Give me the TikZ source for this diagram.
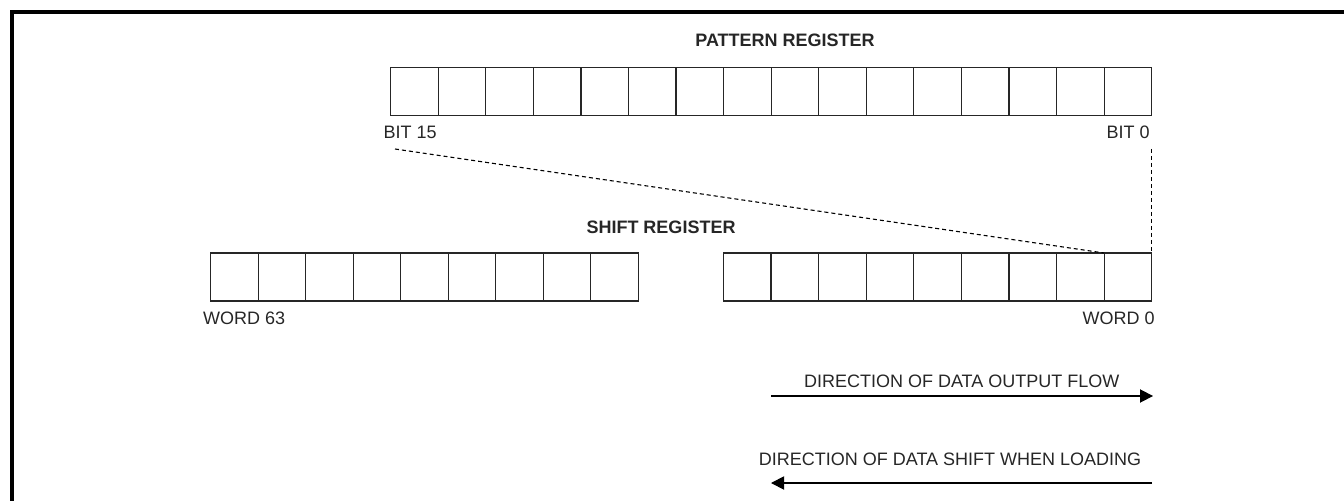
\documentclass[tikz,border=0pt]{standalone}
\usepackage{fontspec}
\setmainfont{Liberation Sans}
\usetikzlibrary{arrows.meta}
\begin{document}
\begin{tikzpicture}[x=0.5bp,y=-0.5bp,
  cell/.style={draw=black!85,line width=0.6bp,inner sep=0pt,outer sep=0pt,minimum width=23.78bp,minimum height=24bp,anchor=west},
  lbl/.style={inner sep=0pt,font=\fontsize{9bp}{11bp}\selectfont,text=black!85},
  ttl/.style={inner sep=0pt,font=\fontsize{9bp}{11bp}\selectfont\bfseries,text=black!85},
  dashline/.style={line width=0.55bp,dash pattern=on 2bp off 1.5bp},
  flow/.style={line width=0.6bp,-{Triangle[length=6.5bp,width=6.6bp]}}]
\useasboundingbox (0,0) rectangle (1344,501);
% frame
\draw[line width=1.6bp] (12,501) -- (12,12) -- (1344,12);
% pattern register
\node[ttl] (pt) at (785,40) {PATTERN REGISTER};
\foreach \i in {0,...,15} {
  \node[cell] (p\i) at ({390.7+(15-\i)*47.56},91.7) {};
}
\node[lbl,anchor=west] (b15) at (383.3,132) {BIT 15};
\node[lbl,anchor=east] (b0) at (1150,132.5) {BIT 0};
% shift register
\node[ttl] (st) at (661,227.5) {SHIFT REGISTER};
\foreach \k in {1,...,9} {
  \node[cell,minimum width=23.75bp] (s\k) at ({210.7+(\k-1)*47.5},277) {};
}
\foreach \k in {0,...,8} {
  \node[cell,minimum width=23.8bp] (r\k) at ({723.3+(8-\k)*47.6},277) {};
}
\node[lbl,anchor=west] (w63) at (202.7,318) {WORD 63};
\node[lbl,anchor=east] (w0) at (1155,318) {WORD 0};
% dashed mapping lines
\coordinate (d15) at (395,149);
\coordinate (d0) at (r0.north east |- 0,149);
\draw[dashline] (d15) -- (r0.north west);
\draw[dashline] (d0) -- (r0.north east);
% direction arrows
\node[lbl] (t1) at (961.7,381) {DIRECTION OF DATA OUTPUT FLOW};
\coordinate (a1s) at (771,396);
\coordinate (a1e) at (1153,396);
\draw[flow] (a1s) -- (a1e);
\node[lbl] (t2) at (950,459) {DIRECTION OF DATA SHIFT WHEN LOADING};
\coordinate (a2s) at (1152,483);
\coordinate (a2e) at (771,483);
\draw[flow] (a2s) -- (a2e);
\end{tikzpicture}
\end{document}
